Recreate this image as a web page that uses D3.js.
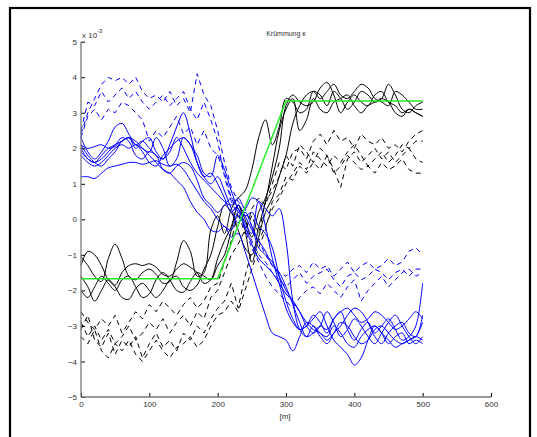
<!DOCTYPE html>
<html><head><meta charset="utf-8">
<script src="https://cdn.jsdelivr.net/npm/d3@7"></script>
<style>body{margin:0;background:#fff}svg{display:block}</style>
</head><body>
<script>
const dist = [0,10,20,30,40,50,60,70,80,90,100,110,120,130,140,150,160,170,180,190,200,210,220,230,240,250,260,270,280,290,300,310,320,330,340,350,360,370,380,390,400,410,420,430,440,450,460,470,480,490,500];

const blackSolid1 = [-1.05,-1.3,-1.6,-1.75,-1.1,-0.7,-1.1,-1.6,-1.7,-1.5,-1.4,-1.55,-1.8,-1.75,-1.2,-0.6,-0.9,-1.6,-1.5,-0.3,0.1,-0.4,0.3,0.6,0.8,1.4,2.3,2.8,2.1,2.6,3.4,3.3,3.0,3.1,3.6,3.5,3.2,3.6,3.4,3.1,3.3,3.6,3.5,3.3,3.4,3.8,3.5,3.1,3.0,3.2,3.3];
const blackSolid2 = [-1.3,-0.9,-1.0,-1.3,-1.7,-1.85,-1.5,-1.3,-1.25,-1.3,-1.25,-1.35,-1.55,-1.6,-1.4,-1.25,-1.35,-1.5,-1.8,-1.7,-1.1,-0.6,-0.2,0.4,0.0,-0.5,0.2,0.6,1.2,2.0,3.2,3.5,3.3,3.2,3.3,3.7,3.85,3.5,3.0,3.3,3.5,3.3,3.2,3.5,3.6,3.3,3.2,3.0,3.1,3.0,2.9];
const blackSolid3 = [-2.0,-2.2,-1.9,-1.6,-1.8,-2.0,-1.7,-1.6,-1.9,-2.2,-2.1,-1.7,-1.5,-1.7,-2.0,-2.05,-1.75,-1.5,-1.6,-1.7,-1.3,-1.0,-0.3,0.4,-0.3,-1.2,-0.5,0.2,0.6,1.2,1.8,2.7,3.2,3.5,3.6,3.4,3.6,3.8,3.5,3.4,3.6,3.8,3.7,3.4,3.3,3.2,3.6,3.5,3.3,3.1,3.1];
const blackSolid4 = [-1.6,-1.9,-2.3,-2.0,-1.7,-1.9,-2.2,-2.25,-1.95,-1.8,-2.0,-2.2,-2.0,-1.7,-1.6,-1.9,-2.0,-1.85,-1.4,-1.0,-0.2,0.4,0.2,-0.3,-0.8,-1.0,-0.2,0.5,1.5,2.5,3.1,3.4,2.5,2.8,3.4,3.1,3.0,3.3,3.4,3.5,3.2,3.0,3.2,3.3,3.4,3.3,3.0,2.9,3.1,3.0,2.9];

const blackDash1 = [-2.6,-2.9,-3.1,-2.8,-3.0,-2.7,-3.2,-2.9,-2.6,-2.8,-2.4,-2.6,-2.3,-2.5,-2.7,-2.4,-2.2,-2.5,-2.3,-1.9,-1.8,-1.2,-0.6,0.2,-0.4,0.3,0.6,0.4,1.0,1.6,1.4,1.9,2.0,1.7,2.2,2.4,2.1,2.5,2.2,2.3,2.0,2.4,2.2,2.1,2.3,2.0,2.1,1.9,2.2,2.4,2.5];
const blackDash2 = [-2.9,-3.3,-3.0,-3.4,-3.1,-3.5,-3.3,-3.0,-3.4,-3.2,-2.9,-3.1,-2.8,-3.2,-2.9,-2.7,-3.0,-2.6,-2.8,-2.2,-2.0,-1.5,-1.0,-0.7,-0.3,0.1,-0.4,0.5,0.8,1.2,1.8,1.5,2.1,1.9,1.6,2.0,1.8,1.4,0.9,1.7,1.9,1.6,1.8,2.0,1.7,1.9,1.6,1.8,2.0,1.7,1.6];
const blackDash3 = [-3.1,-2.7,-3.4,-3.6,-3.2,-3.8,-3.4,-3.6,-3.3,-3.9,-3.5,-3.2,-3.6,-3.4,-3.7,-3.2,-3.4,-3.0,-3.2,-2.8,-2.5,-2.3,-1.8,-2.5,-1.6,-0.9,-0.6,-0.2,0.3,0.6,1.0,1.3,1.6,1.4,1.9,1.7,1.5,1.8,1.6,1.9,2.1,1.8,1.5,1.7,1.9,1.6,1.8,2.1,2.0,2.2,2.2];
const blackDash4 = [-3.3,-3.5,-3.1,-3.7,-3.9,-3.5,-3.7,-3.4,-3.8,-4.0,-3.7,-3.4,-3.7,-3.9,-3.6,-3.5,-3.3,-3.6,-3.4,-3.0,-2.7,-2.6,-2.3,-2.6,-2.0,-1.4,-0.8,-0.3,0.5,0.7,1.2,1.1,1.5,1.3,1.6,1.4,1.8,1.3,1.5,1.8,1.6,1.4,1.5,1.3,1.6,1.4,1.5,1.7,1.4,1.3,1.3];

const blueSolid1 = [2.3,1.9,1.7,1.9,2.2,2.6,2.7,2.4,2.1,2.2,2.0,1.8,1.7,2.1,2.6,3.0,2.4,1.6,1.2,1.3,1.0,0.6,0.2,0.4,0.1,-0.3,-0.6,-0.9,-1.3,-1.5,-1.9,-2.4,-2.9,-3.3,-3.2,-3.0,-3.1,-2.8,-2.6,-3.1,-3.4,-3.1,-2.9,-3.2,-3.0,-2.8,-3.1,-3.4,-3.3,-3.0,-1.8];
const blueSolid2 = [2.1,1.8,1.6,1.5,1.7,1.9,2.2,2.3,2.2,2.0,1.9,2.3,2.0,1.5,1.7,2.3,2.1,1.6,1.2,1.0,1.2,0.8,0.3,-0.1,0.2,-0.2,-0.8,-1.0,-1.2,-1.6,-2.0,-2.3,-2.6,-2.9,-3.1,-3.2,-3.4,-3.2,-3.0,-2.7,-2.5,-2.6,-2.9,-3.3,-3.5,-3.2,-3.0,-2.9,-3.2,-3.3,-2.7];
const blueSolid3 = [2.0,1.7,1.6,1.8,2.0,2.1,2.3,2.2,1.8,1.7,1.9,1.8,1.4,1.3,1.5,1.6,1.5,1.1,0.6,0.4,0.2,0.4,0.6,0.3,-0.1,-0.4,0.5,0.3,0.1,0.3,-0.6,-2.3,-3.1,-3.3,-3.0,-3.2,-3.3,-3.0,-3.2,-3.5,-3.6,-3.3,-3.1,-3.0,-3.2,-3.4,-3.6,-3.5,-3.4,-3.3,-2.9];
const blueSolid4 = [1.9,1.7,1.6,1.7,1.9,2.1,2.2,2.3,2.1,2.0,1.8,1.6,1.4,1.3,1.1,0.9,0.5,0.2,0.0,-0.3,-0.35,-0.2,-0.5,-0.4,-0.9,-1.5,-2.1,-2.7,-3.2,-3.3,-3.4,-3.7,-3.3,-2.9,-3.0,-3.3,-3.5,-3.2,-2.9,-3.0,-3.3,-3.5,-3.4,-3.1,-3.0,-3.2,-3.4,-3.5,-3.4,-3.3,-3.4];
const blueSolid5 = [1.8,1.6,1.5,1.6,1.8,2.0,2.1,2.0,2.1,1.9,1.6,1.5,1.8,2.0,2.2,2.3,2.1,1.8,1.3,1.2,1.8,1.4,0.8,0.3,0.1,0.2,-0.2,-0.4,-0.8,-1.6,-2.3,-2.8,-3.1,-3.0,-2.8,-2.6,-3.0,-3.4,-3.6,-3.8,-4.1,-3.9,-3.4,-3.0,-3.2,-3.5,-3.3,-3.2,-3.5,-3.4,-3.5];
const blueSolid6 = [1.2,1.2,1.15,1.3,1.45,1.5,1.55,1.6,1.6,1.55,1.6,1.65,1.55,1.5,1.55,1.4,1.1,0.8,0.5,0.3,0.0,-0.2,-0.3,0.2,-0.2,-0.7,-1.1,-1.3,-1.5,-1.8,-2.1,-2.3,-2.6,-3.0,-3.2,-3.0,-2.6,-2.9,-3.3,-3.1,-2.8,-3.0,-3.3,-3.5,-3.2,-2.9,-2.7,-3.0,-3.3,-3.5,-3.3];
const blueSolid7 = [2.1,2.0,2.05,2.1,2.0,2.05,2.2,2.3,2.0,2.2,2.3,1.9,1.7,1.9,2.3,2.0,1.6,1.3,1.1,0.9,0.7,0.5,0.4,0.6,0.3,0.6,0.5,-0.2,-1.1,-1.8,-2.5,-2.9,-3.1,-3.0,-2.7,-2.9,-3.2,-2.8,-2.6,-2.5,-2.7,-2.9,-2.8,-2.6,-2.7,-2.9,-3.1,-3.0,-2.8,-2.6,-2.8];

const blueDash1 = [2.4,3.0,3.4,3.8,4.0,3.9,4.0,3.8,4.0,3.6,3.4,3.5,3.3,3.6,3.2,3.4,3.0,4.1,3.5,3.2,2.5,1.6,0.9,0.5,0.3,-0.2,-0.6,-1.0,-1.3,-1.5,-1.6,-1.4,-1.3,-1.5,-1.2,-1.4,-1.3,-1.6,-1.4,-1.2,-1.5,-1.3,-1.2,-1.4,-1.3,-1.1,-1.3,-1.2,-0.9,-0.8,-1.0];
const blueDash2 = [2.5,3.3,3.2,3.6,3.3,3.5,3.7,3.4,3.6,3.3,3.1,3.3,3.5,3.2,3.4,3.6,3.1,2.8,3.3,2.8,2.2,1.2,0.5,0.1,-0.2,-0.6,-1.0,-1.2,-1.5,-1.7,-1.9,-1.7,-1.5,-1.8,-1.6,-1.5,-1.4,-1.7,-1.9,-1.6,-1.5,-1.7,-1.6,-1.4,-1.5,-1.7,-1.5,-1.4,-1.6,-1.4,-1.4];
const blueDash3 = [2.3,2.9,3.1,2.8,3.1,3.0,3.3,3.2,3.0,2.8,2.2,2.5,2.3,2.6,2.9,2.4,2.6,2.1,2.5,2.0,1.8,1.3,0.6,0.2,-0.3,-0.8,-1.2,-1.6,-1.9,-2.1,-2.3,-2.5,-2.2,-2.0,-1.9,-2.1,-1.8,-2.0,-2.2,-1.9,-1.7,-2.3,-2.0,-1.8,-1.6,-1.9,-1.7,-1.5,-1.4,-1.6,-1.5];

const referenceX = [0,200,300,500];
const referenceY = [-1.67,-1.67,3.33,3.33];

const xTicks = [0,100,200,300,400,500,600];
const yTicks = [-5,-4,-3,-2,-1,0,1,2,3,4,5];
const titleText = "Krümmung κ";
const xLabel = "[m]";

const W = 537, H = 437;
const svg = d3.select("body").append("svg").attr("width", W).attr("height", H);

svg.append("rect").attr("x", 10).attr("y", 8).attr("width", 520).attr("height", 440)
  .attr("fill", "none").attr("stroke", "#000").attr("stroke-width", 2.2);

const x = d3.scaleLinear().domain([0, 600]).range([81, 491]);
const y = d3.scaleLinear().domain([-5, 5]).range([397, 41.7]);

const g = svg.append("g");

function draw(vals, color, dashed, smooth, w) {
  const pts = dist.map((d, i) => [d, vals[i]]);
  const line = d3.line().x(d => x(d[0])).y(d => y(d[1]))
    .curve(smooth ? d3.curveCatmullRom.alpha(0.5) : d3.curveLinear);
  g.append("path").datum(pts).attr("d", line)
    .attr("fill", "none").attr("stroke", color).attr("stroke-width", w || 1)
    .attr("stroke-dasharray", dashed ? "5,4" : null);
}

[blackDash1, blackDash2, blackDash3, blackDash4].forEach(s => draw(s, "#000", true, false));
[blackSolid1, blackSolid2, blackSolid3, blackSolid4].forEach(s => draw(s, "#000", false, true));
[blueDash1, blueDash2, blueDash3].forEach(s => draw(s, "#0000ff", true, false));
[blueSolid1, blueSolid2, blueSolid3, blueSolid4, blueSolid5, blueSolid6, blueSolid7].forEach(s => draw(s, "#0000ff", false, true));

g.append("path").datum(referenceX.map((d, i) => [d, referenceY[i]]))
  .attr("d", d3.line().x(d => x(d[0])).y(d => y(d[1])))
  .attr("fill", "none").attr("stroke", "#22ee22").attr("stroke-width", 1.5);

// axes
const font = "Liberation Sans, Arial, sans-serif";
const xAxis = svg.append("g").attr("transform", "translate(0,397)")
  .call(d3.axisTop(x).tickValues(xTicks).tickSize(4).tickFormat(d3.format("d")));
xAxis.select(".domain").remove();
xAxis.selectAll(".tick line").attr("stroke", "#000");
xAxis.selectAll(".tick text").attr("y", 4).attr("dy", "0.71em").attr("fill", "#333")
  .style("font-family", font).style("font-size", "8px");

const yAxis = svg.append("g").attr("transform", "translate(81,0)")
  .call(d3.axisRight(y).tickValues(yTicks).tickSize(4).tickFormat(d3.format("d")));
yAxis.select(".domain").remove();
yAxis.selectAll(".tick line").attr("stroke", "#000");
yAxis.selectAll(".tick text").attr("x", -4).attr("text-anchor", "end").attr("fill", "#333")
  .style("font-family", font).style("font-size", "8px");

svg.append("line").attr("x1", 81).attr("x2", 491).attr("y1", 397).attr("y2", 397)
  .attr("stroke", "#777").attr("stroke-width", 1.3);
svg.append("line").attr("x1", 81).attr("x2", 81).attr("y1", 41.7).attr("y2", 397)
  .attr("stroke", "#777").attr("stroke-width", 1.3);

// exponent label
const ex = svg.append("text").attr("x", 82).attr("y", 38).attr("fill", "#333")
  .style("font-family", font).style("font-size", "8px");
ex.append("tspan").text("x 10");
ex.append("tspan").attr("dy", -5).style("font-size", "6px").text("-3");

svg.append("text").attr("x", 286).attr("y", 36).attr("text-anchor", "middle").attr("fill", "#333")
  .style("font-family", font).style("font-size", "7px").text(titleText);
svg.append("text").attr("x", 285).attr("y", 419).attr("text-anchor", "middle").attr("fill", "#333")
  .style("font-family", font).style("font-size", "8px").text(xLabel);
</script>
</body></html>
